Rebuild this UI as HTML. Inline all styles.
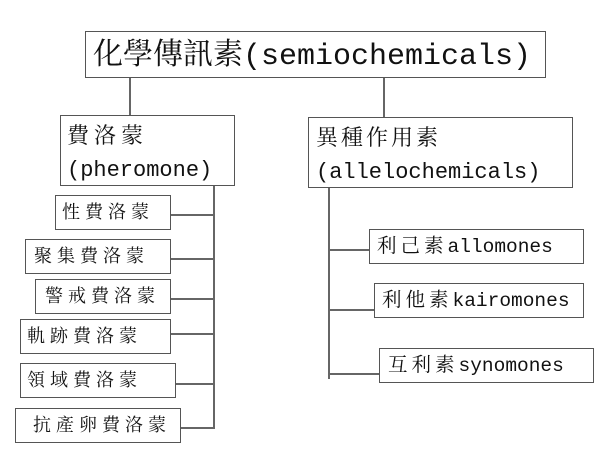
<!DOCTYPE html>
<html><head><meta charset="utf-8"><style>
body{margin:0;width:600px;height:459px;background:#fff;position:relative;overflow:hidden;font-family:"Liberation Mono","Noto Serif CJK SC",monospace;color:#111}
.b{position:absolute;border:1.5px solid #555;box-sizing:border-box;white-space:nowrap;background:#fff}
.l{position:absolute;background:#666}
.s{font-size:18px;line-height:36px;letter-spacing:5px}
.c{letter-spacing:4px}
</style></head><body>
<div class="l" style="left:129px;top:77px;width:1.5px;height:38px"></div>
<div class="l" style="left:383px;top:77px;width:1.5px;height:40px"></div>
<div class="l" style="left:213px;top:185px;width:1.5px;height:244px"></div>
<div class="l" style="left:328px;top:187px;width:1.5px;height:192px"></div>
<div class="l" style="left:170px;top:214px;width:44px;height:1.5px"></div>
<div class="l" style="left:170px;top:258px;width:44px;height:1.5px"></div>
<div class="l" style="left:170px;top:298px;width:44px;height:1.5px"></div>
<div class="l" style="left:170px;top:333px;width:44px;height:1.5px"></div>
<div class="l" style="left:175px;top:383px;width:39px;height:1.5px"></div>
<div class="l" style="left:180px;top:427px;width:34px;height:1.5px"></div>
<div class="l" style="left:329px;top:249px;width:40px;height:1.5px"></div>
<div class="l" style="left:329px;top:309px;width:45px;height:1.5px"></div>
<div class="l" style="left:329px;top:373px;width:50px;height:1.5px"></div>

<div class="b" style="left:85px;top:31px;width:461px;height:47px;font-size:30px;line-height:50px;padding-left:7px">化學傳訊素(semiochemicals)</div>
<div class="b" style="left:60px;top:115px;width:175px;height:71px;font-size:22px;line-height:33px;padding:5px 0 0 6px"><span style="letter-spacing:5px">費洛蒙</span><br>(pheromone)</div>
<div class="b" style="left:308px;top:117px;width:265px;height:71px;font-size:22px;line-height:33px;padding:5px 0 0 7px"><span style="letter-spacing:3px">異種作用素</span><br>(allelochemicals)</div>

<div class="b s" style="left:55px;top:195px;width:116px;height:35px;padding-left:6px">性費洛蒙</div>
<div class="b s" style="left:25px;top:239px;width:146px;height:35px;padding-left:8px">聚集費洛蒙</div>
<div class="b s" style="left:35px;top:279px;width:136px;height:35px;padding-left:9px">警戒費洛蒙</div>
<div class="b s" style="left:20px;top:319px;width:151px;height:35px;padding-left:6px">軌跡費洛蒙</div>
<div class="b s" style="left:20px;top:363px;width:156px;height:35px;padding-left:6px">領域費洛蒙</div>
<div class="b s" style="left:15px;top:408px;width:166px;height:35px;padding-left:17px">抗產卵費洛蒙</div>

<div class="b" style="left:369px;top:229px;width:215px;height:35px;padding-left:7px;font-size:19.5px;line-height:35px"><span class="c">利己素</span>allomones</div>
<div class="b" style="left:374px;top:283px;width:210px;height:35px;padding-left:7px;font-size:19.5px;line-height:35px"><span class="c">利他素</span>kairomones</div>
<div class="b" style="left:379px;top:348px;width:215px;height:35px;padding-left:8px;font-size:19.5px;line-height:35px"><span class="c">互利素</span>synomones</div>
</body></html>
